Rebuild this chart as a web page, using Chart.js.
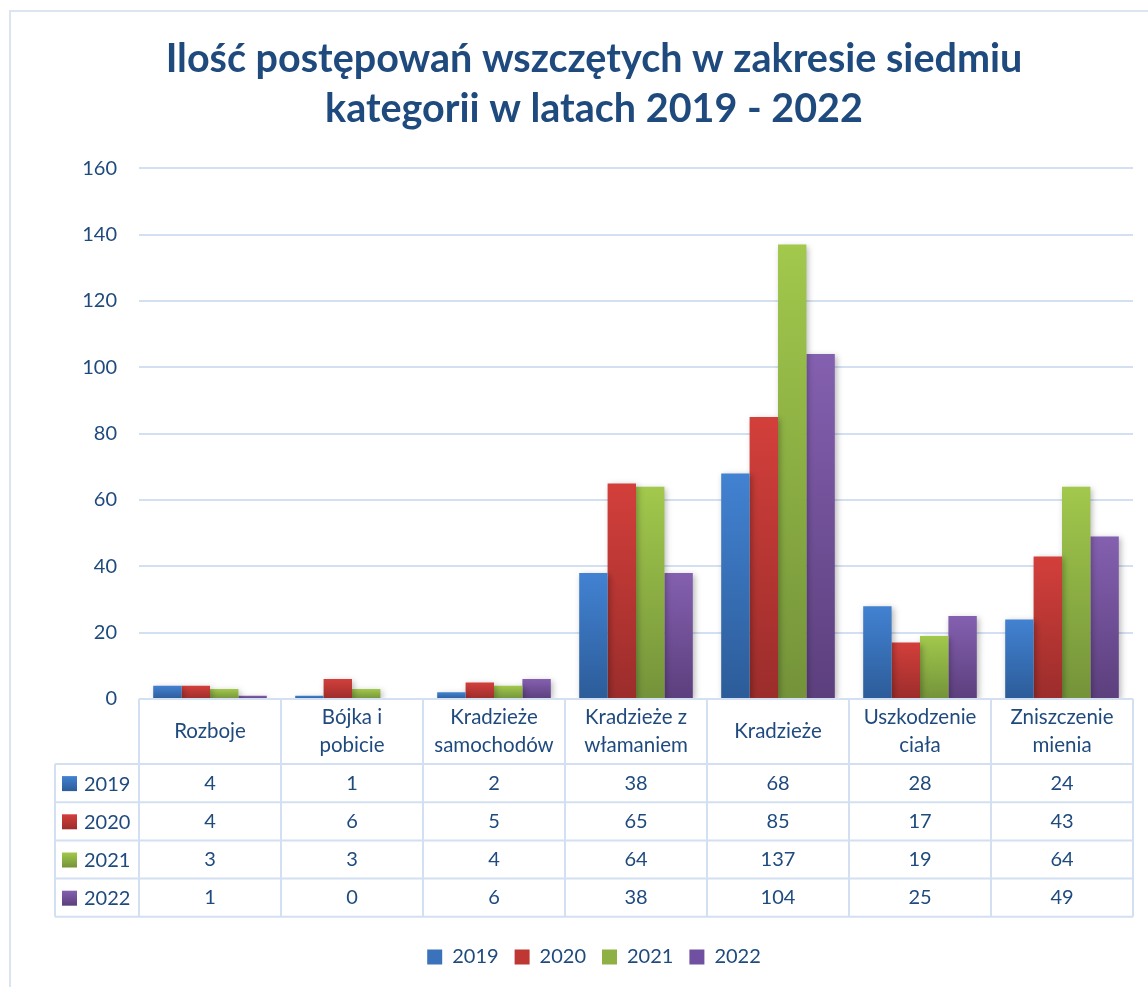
<!DOCTYPE html>
<html>
<head>
<meta charset="utf-8">
<script src="https://cdn.jsdelivr.net/npm/chart.js@4/dist/chart.umd.min.js"></script>
<style>
  html, body { margin: 0; padding: 0; background: #fff; }
  #wrap { position: relative; width: 1148px; height: 987px; overflow: hidden; }
  #frame { position: absolute; left: 9px; top: 10px; width: 1160px; height: 1000px; border: 2px solid #dbe5f2; box-sizing: border-box; }
  canvas { position: absolute; left: 0; top: 0; }
</style>
</head>
<body>
<div id="wrap">
  <div id="frame"></div>
  <canvas id="chart" width="1148" height="987"></canvas>
</div>
<script>
var categories = [
    ['Rozboje'],
    ['Bójka i', 'pobicie'],
    ['Kradzieże', 'samochodów'],
    ['Kradzieże z', 'włamaniem'],
    ['Kradzieże'],
    ['Uszkodzenie', 'ciała'],
    ['Zniszczenie', 'mienia']
];
var years = ['2019', '2020', '2021', '2022'];
var values2019 = [4, 1, 2, 38, 68, 28, 24];
var values2020 = [4, 6, 5, 65, 85, 17, 43];
var values2021 = [3, 3, 4, 64, 137, 19, 64];
var values2022 = [1, 0, 6, 38, 104, 25, 49];
var yTicks = [0, 20, 40, 60, 80, 100, 120, 140, 160];

var textColor = '#1f4a7e';
var lineColor = '#d3e0f1';
var fontFamily = 'Lato, "Open Sans", sans-serif';

// top / bottom colours of each bar gradient
var topColors = ['#4282d2', '#d33f3b', '#a2c84c', '#8460b0'];
var bottomColors = ['#2c5c99', '#9b2d2b', '#74933a', '#5c3f7d'];
var solidColors = ['#3a72bb', '#be3733', '#8fb043', '#7050a0'];

function barGradient(i) {
    return function (ctx) {
        var chart = ctx.chart;
        var y = chart.scales.y;
        if (ctx.type !== 'data' || !y) return solidColors[i];
        var y1 = y.getPixelForValue(ctx.raw);
        var y0 = y.getPixelForValue(0);
        if (!isFinite(y1) || Math.abs(y0 - y1) < 1) return topColors[i];
        var g = chart.ctx.createLinearGradient(0, y1, 0, y0);
        g.addColorStop(0, topColors[i]);
        g.addColorStop(1, bottomColors[i]);
        return g;
    };
}

var allValues = [values2019, values2020, values2021, values2022];

// excel-like shadow behind the bars
var barShadow = {
    id: 'barShadow',
    beforeDatasetsDraw: function (chart) {
        var c = chart.ctx;
        c.save();
        c.shadowColor = 'rgba(0,0,0,0.28)';
        c.shadowBlur = 6;
        c.shadowOffsetX = 2;
        c.shadowOffsetY = 2;
    },
    afterDatasetsDraw: function (chart) {
        chart.ctx.restore();
    }
};

// data table under the plot
var dataTable = {
    id: 'dataTable',
    afterDraw: function (chart) {
        var c = chart.ctx;
        var area = chart.chartArea;
        var n = categories.length;
        var colW = (area.right - area.left) / n;
        var top = area.bottom;
        var headH = 65;
        var rowH = 38.2;
        var labelLeft = 55;
        var bottom = top + headH + rowH * years.length;

        c.save();
        c.strokeStyle = lineColor;
        c.lineWidth = 2;
        c.beginPath();
        // header top
        c.moveTo(area.left, top); c.lineTo(area.right, top);
        // row lines
        for (var r = 0; r <= years.length; r++) {
            var yy = top + headH + r * rowH;
            c.moveTo(labelLeft, yy); c.lineTo(area.right, yy);
        }
        // verticals
        for (var k = 0; k <= n; k++) {
            var xx = area.left + k * colW;
            c.moveTo(xx, top); c.lineTo(xx, bottom);
        }
        c.moveTo(labelLeft, top + headH); c.lineTo(labelLeft, bottom);
        c.stroke();

        c.fillStyle = textColor;
        c.font = '20.5px ' + fontFamily;
        c.textAlign = 'center';
        c.textBaseline = 'middle';
        categories.forEach(function (lines, i) {
            var cx = area.left + (i + 0.5) * colW;
            var cy = top + headH / 2;
            var lh = 28;
            lines.forEach(function (t, j) {
                c.fillText(t, cx, cy + (j - (lines.length - 1) / 2) * lh);
            });
        });
        c.font = '20px ' + fontFamily;
        allValues.forEach(function (vals, r) {
            var cy = top + headH + (r + 0.5) * rowH;
            c.fillStyle = textColor;
            c.textAlign = 'center';
            vals.forEach(function (v, i) {
                c.fillText(String(v), area.left + (i + 0.5) * colW, cy);
            });
            var g = c.createLinearGradient(0, cy - 7, 0, cy + 8);
            g.addColorStop(0, topColors[r]);
            g.addColorStop(1, bottomColors[r]);
            c.fillStyle = g;
            c.fillRect(62, cy - 7, 15, 15);
            c.fillStyle = textColor;
            c.textAlign = 'left';
            c.fillText(years[r], 84, cy + 1);
        });
        c.restore();
    }
};

var ctx = document.getElementById('chart').getContext('2d');
var chart = new Chart(ctx, {
    type: 'bar',
    data: {
        labels: categories,
        datasets: years.map(function (yr, i) {
            return {
                label: yr,
                data: allValues[i],
                backgroundColor: barGradient(i),
                borderWidth: 0,
                categoryPercentage: 0.8,
                barPercentage: 1.0
            };
        })
    },
    options: {
        responsive: false,
        animation: false,
        events: [],
        layout: {
            padding: { left: 55, right: 15, top: 12, bottom: 10 }
        },
        plugins: {
            title: {
                display: true,
                text: ['Ilość postępowań wszczętych w zakresie siedmiu', 'kategorii w latach 2019 - 2022'],
                color: textColor,
                font: { family: fontFamily, size: 39.5, weight: 'bold', lineHeight: 1.27 },
                padding: { top: 22, bottom: 34 }
            },
            legend: {
                position: 'bottom',
                labels: {
                    color: textColor,
                    font: { family: fontFamily, size: 20 },
                    boxWidth: 15,
                    boxHeight: 15,
                    padding: 16,
                    generateLabels: function (chart) {
                        return years.map(function (yr, i) {
                            return {
                                text: yr,
                                fillStyle: solidColors[i],
                                strokeStyle: solidColors[i],
                                lineWidth: 0,
                                datasetIndex: i,
                                fontColor: textColor
                            };
                        });
                    }
                }
            },
            tooltip: { enabled: false }
        },
        scales: {
            x: {
                ticks: { display: false },
                grid: { display: false },
                border: { display: false },
                afterFit: function (scale) { scale.height = 232; }
            },
            y: {
                min: 0,
                max: 160,
                afterBuildTicks: function (scale) {
                    scale.ticks = yTicks.map(function (v) { return { value: v }; });
                },
                afterFit: function (scale) { scale.width = 84; },
                ticks: {
                    color: textColor,
                    font: { family: fontFamily, size: 20 },
                    padding: 22
                },
                grid: { color: lineColor, lineWidth: 2, drawTicks: false },
                border: { display: false }
            }
        }
    },
    plugins: [barShadow, dataTable]
});
</script>
</body>
</html>
